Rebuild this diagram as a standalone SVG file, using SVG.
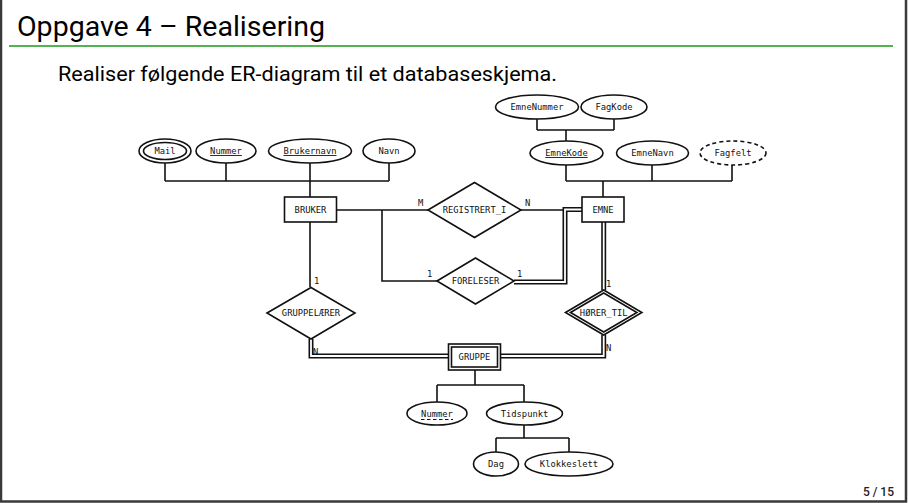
<svg xmlns="http://www.w3.org/2000/svg" width="908" height="503" viewBox="0 0 908 503">
<style>
.ln{fill:none;stroke:#111;stroke-width:1.6}
.dbo{fill:none;stroke:#111;stroke-width:5}
.dbi{fill:none;stroke:#fff;stroke-width:1.8}
.sh{fill:#fff;stroke:#111;stroke-width:1.6}
.t{font-family:"DejaVu Sans Mono",monospace;font-size:8.8px;fill:#111;text-anchor:middle}
.c{font-family:"DejaVu Sans Mono",monospace;font-size:8.8px;fill:#111}
</style>
<rect width="908" height="503" fill="#fff"/>
<path d="M1,0 V501.5 H906 V0" fill="none" stroke="#3a3a3a" stroke-width="2.5"/>
<text x="17" y="36" font-family="Roboto,'Liberation Sans',sans-serif" font-size="28" fill="#000" textLength="308" lengthAdjust="spacingAndGlyphs">Oppgave 4 – Realisering</text>
<line x1="9" y1="46" x2="893" y2="46" stroke="#1a9a1a" stroke-width="1.5"/>
<text x="58" y="81" font-family="Roboto,'Liberation Sans',sans-serif" font-size="20" fill="#000" textLength="499" lengthAdjust="spacingAndGlyphs">Realiser følgende ER-diagram til et databaseskjema.</text>
<text x="894" y="496" font-family="Roboto,'Liberation Sans',sans-serif" font-size="12" font-weight="500" fill="#222" text-anchor="end">5 / 15</text>

<g id="connectors">
<path class="ln" d="M165,163 V181 M226,163 V181 M310,163 V197 M389,163 V181 M165,181 H389"/>
<path class="ln" d="M337,210 H428 M382,210 V281 H437 M521,210 H566"/>
<path class="ln" d="M310,222 V287"/>
<path class="ln" d="M537,119 V130 M614,119 V130 M537,130 H614 M566,130 V141"/>
<path class="ln" d="M566,165 V181 M652,165 V181 M732,165 V181 M566,181 H732 M603,181 V197"/>
<path class="dbo" d="M514,282 H565 V209.5 H582"/>
<path class="dbi" d="M514,282 H565 V209.5 H582"/>
<path class="dbo" d="M603.7,222 V290"/>
<path class="dbi" d="M603.7,222 V290"/>
<path class="dbo" d="M603.7,335 V356 H501"/>
<path class="dbi" d="M603.7,335 V356 H501"/>
<path class="dbo" d="M448,356 H311 V339"/>
<path class="dbi" d="M448,356 H311 V339"/>
<path class="ln" d="M475,370 V385 M437,385 H524 M437,385 V402 M524,385 V402"/>
<path class="ln" d="M524,425 V438 M496,438 H569 M496,438 V452 M569,438 V452"/>
<text class="c" x="418" y="206">M</text>
<text class="c" x="525" y="206">N</text>
<text class="c" x="427" y="277">1</text>
<text class="c" x="517" y="277">1</text>
<text class="c" x="606" y="287">1</text>
<text class="c" x="606" y="351">N</text>
<text class="c" x="314" y="284">1</text>
<text class="c" x="313" y="355">N</text>
</g>

<g id="bruker">
<rect class="sh" x="284.5" y="197" width="52" height="25"/>
<text class="t" x="310.5" y="212.5">BRUKER</text>
</g>
<g id="mail">
<ellipse class="sh" cx="165" cy="151" rx="26" ry="12"/>
<ellipse class="sh" cx="165" cy="151" rx="21.5" ry="8.5"/>
<text class="t" x="165" y="154">Mail</text>
</g>
<g id="bruker-nummer">
<ellipse class="sh" cx="226" cy="151" rx="30" ry="12"/>
<text class="t" x="226" y="154" text-decoration="underline">Nummer</text>
</g>
<g id="brukernavn">
<ellipse class="sh" cx="310" cy="151" rx="41.5" ry="12"/>
<text class="t" x="310" y="154" text-decoration="underline">Brukernavn</text>
</g>
<g id="navn">
<ellipse class="sh" cx="389" cy="151" rx="26" ry="12"/>
<text class="t" x="389" y="154">Navn</text>
</g>

<g id="registrert_i">
<polygon class="sh" points="428,210 474.5,182.5 521,210 474.5,237.5"/>
<text class="t" x="474.5" y="213">REGISTRERT_I</text>
</g>
<g id="foreleser">
<polygon class="sh" points="437,281 475.5,258 514,281 475.5,304"/>
<text class="t" x="475.5" y="284">FORELESER</text>
</g>

<g id="emne">
<rect class="sh" x="582" y="197" width="42" height="25"/>
<text class="t" x="603" y="212.5">EMNE</text>
</g>
<g id="emnenummer">
<ellipse class="sh" cx="537" cy="107" rx="41.5" ry="12"/>
<text class="t" x="537" y="110">EmneNummer</text>
</g>
<g id="fagkode">
<ellipse class="sh" cx="614" cy="107" rx="33" ry="12"/>
<text class="t" x="614" y="110">FagKode</text>
</g>
<g id="emnekode">
<ellipse class="sh" cx="566.5" cy="153" rx="36.5" ry="12"/>
<text class="t" x="566.5" y="156" text-decoration="underline">EmneKode</text>
</g>
<g id="emnenavn">
<ellipse class="sh" cx="652.5" cy="153" rx="36" ry="12"/>
<text class="t" x="652.5" y="156">EmneNavn</text>
</g>
<g id="fagfelt">
<ellipse class="sh" cx="733" cy="153" rx="33" ry="12" stroke-dasharray="4,3"/>
<text class="t" x="733" y="156">Fagfelt</text>
</g>

<g id="gruppelaerer">
<polygon class="sh" points="267,313 311,287.5 355,313 311,339"/>
<text class="t" x="311" y="316">GRUPPELÆRER</text>
</g>
<g id="horer_til">
<polygon class="sh" points="565.5,312.5 603.7,290 641.9,312.5 603.7,335"/>
<polygon class="sh" points="570.5,312.5 603.7,293 636.9,312.5 603.7,332"/>
<text class="t" x="603.7" y="315.5">HØRER_TIL</text>
</g>
<g id="gruppe">
<rect class="sh" x="448.5" y="344" width="52" height="26"/>
<rect class="sh" x="451.5" y="347" width="46" height="20"/>
<text class="t" x="474.5" y="360">GRUPPE</text>
</g>
<g id="gruppe-nummer">
<ellipse class="sh" cx="437" cy="413.5" rx="30" ry="11.5"/>
<text class="t" x="437" y="416.5">Nummer</text>
<line x1="421" y1="419.5" x2="453" y2="419.5" stroke="#111" stroke-width="1" stroke-dasharray="3.5,2.5"/>
</g>
<g id="tidspunkt">
<ellipse class="sh" cx="524.5" cy="413.5" rx="38" ry="11.5"/>
<text class="t" x="524.5" y="416.5">Tidspunkt</text>
</g>
<g id="dag">
<ellipse class="sh" cx="496" cy="464" rx="22.5" ry="12"/>
<text class="t" x="496" y="467">Dag</text>
</g>
<g id="klokkeslett">
<ellipse class="sh" cx="569" cy="464" rx="44" ry="12"/>
<text class="t" x="569" y="467">Klokkeslett</text>
</g>
</svg>
